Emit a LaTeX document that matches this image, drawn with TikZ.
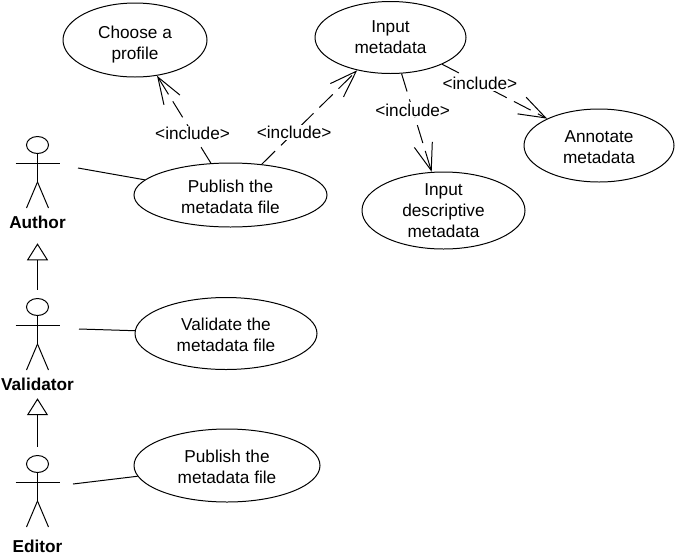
\documentclass[tikz,border=0pt]{standalone}
\usepackage{fontspec}
\setmainfont{Liberation Sans}
\usepackage{xcolor}
\usetikzlibrary{arrows.meta}
\usetikzlibrary{shapes.geometric}
\newcommand{\diagramfont}{\fontsize{14.7}{17.9}\selectfont}
\newcommand{\dropline}[1]{\rule{0pt}{#1}}
\tikzset{
  usecase/.style 2 args={draw,ellipse,inner sep=0pt,align=center,minimum width=#1*0.03cm,minimum height=#2*0.03cm},
  actorname/.style={font=\diagramfont\bfseries},
  actorhead/.style={draw,ellipse,inner sep=0pt,minimum width=22*0.03cm,minimum height=17*0.03cm},
  includes/.style={dash pattern=on 16pt off 7pt,-{Straight Barb[length=23pt,width=16pt]}},
  includetext/.style={fill=white,inner sep=1pt},
  generalizes/.style={-{Triangle[open,length=14.5pt,width=18pt]}}
}

\begin{document}
\begin{tikzpicture}[x=0.03cm,y=-0.03cm,line width=0.85pt,font=\diagramfont]
\useasboundingbox (0,0) rectangle (676,555);

\node[usecase={144}{74}] (choose) at (135,40) {\dropline{18.5pt}Choose a\\profile};
\node[usecase={151}{72}] (input) at (390.5,37.5) {Input\\metadata};
\node[usecase={150}{73}] (annotate) at (599,145.5) {\dropline{12.5pt}Annotate\\metadata};
\node[usecase={163}{77}] (descriptive) at (443.5,210.5) {Input\\descriptive\\metadata};
\node[usecase={193}{64}] (publish) at (230.5,195) {\dropline{14pt}Publish the\\metadata file};
\node[usecase={182}{72}] (validate) at (226,333.5) {\dropline{12.5pt}Validate the\\metadata file};
\node[usecase={186}{73}] (publishtwo) at (227,465.5) {\dropline{12.5pt}Publish the\\metadata file};

%% the three actors
\foreach \name/\who/\y/\ytext in {author/Author/145/222, validator/Validator/307/384, editor/Editor/464/546}
{
    \node[actorhead] (\name head) at (37.5,\y) {};
    \node[actorname] (\name) at (37.5,\ytext) {\who};
    \draw[shift={(37.5,\y)}] (-22,18) -- (22,18);
    \draw[shift={(37.5,\y)}] (0,8.5) -- (0,37) -- (-11,63);
    \draw[shift={(37.5,\y)}] (0,37) -- (11,63);
}

\coordinate (authorhand) at (78,168);
\coordinate (validatorhand) at (79,329);
\coordinate (editorhand) at (73,484);
\draw (authorhand) -- (publish);
\draw (validatorhand) -- (validate);
\draw (editorhand) -- (publishtwo);

\draw[generalizes,shorten <=7pt,shorten >=9pt] (validatorhead) -- (author);
\draw[generalizes,shorten <=7pt,shorten >=3pt] (editorhead) -- (validator);

\draw[includes] (publish) -- node[includetext,pos=0.34] {<include>} (choose);
\draw[includes] (publish) -- node[includetext,pos=0.34] {<include>} (input);
\draw[includes] (input) -- node[includetext,pos=0.37] {<include>} (descriptive);
\draw[includes] (input) -- node[includetext,pos=0.36] {<include>} (annotate);
\end{tikzpicture}
\end{document}
